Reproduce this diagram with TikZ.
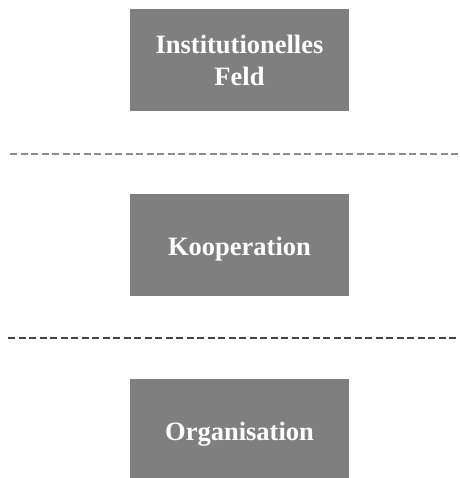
\documentclass[tikz,border=0pt]{standalone}
\usepackage{fontspec}
\setmainfont{Liberation Serif}
\newcommand{\lowertext}[1]{\raisebox{-4pt}[\height][\depth]{#1}}
\begin{document}
\begin{tikzpicture}[x=1pt,y=1pt,
  levelbox/.style={fill=boxgray, draw=none, minimum width=219pt, minimum height=102pt,
    inner sep=0pt, align=center, text=white, font=\bfseries\fontsize{26.5}{32}\selectfont},
  divider/.style={dash pattern=on 7pt off 3.5pt, line width=1.2pt}]
\definecolor{boxgray}{HTML}{7F7F7F}
\definecolor{lightdash}{HTML}{8C8C8C}
\definecolor{darkdash}{HTML}{454545}
\useasboundingbox (0,0) rectangle (459,478);
\clip (0,0) rectangle (459,478);
% three levels, top to bottom
\node[levelbox] (feld) at (239.5,418) {Institutionelles\\Feld};
\node[levelbox] (koop) at (239.5,233) {\lowertext{Kooperation}};
\node[levelbox] (org)  at (239.5,48)  {\lowertext{Organisation}};
% dashed separators between the levels
\coordinate (s1a) at (10,324);
\coordinate (s1b) at (459,324);
\coordinate (s2a) at (8,140);
\coordinate (s2b) at (459,140);
\draw[divider, lightdash] (s1a) -- (s1b);
\draw[divider, darkdash] (s2a) -- (s2b);
\end{tikzpicture}
\end{document}
